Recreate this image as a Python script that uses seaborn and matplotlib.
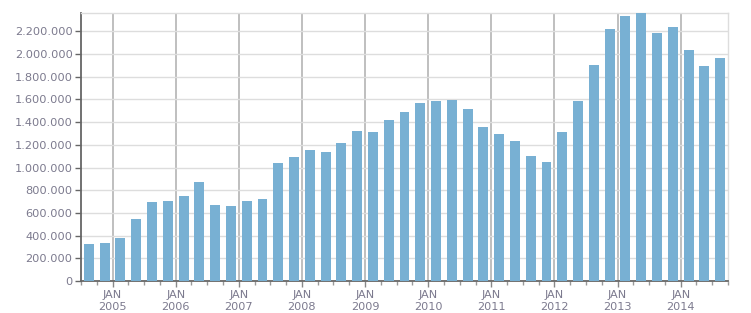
import matplotlib
matplotlib.use("Agg")
import matplotlib.pyplot as plt
import seaborn as sns
import pandas as pd
import numpy as np
from matplotlib.ticker import FuncFormatter, FixedLocator

quarters = [f"{y}Q{q}" for y in range(2004, 2015) for q in range(1, 5)][2:43]
values = [327000, 336000, 380000, 548000, 698000, 707000, 751000, 875000,
          671000, 663000, 707000, 724000, 1043000, 1096000, 1157000, 1140000,
          1219000, 1325000, 1316000, 1422000, 1493000, 1573000, 1590000, 1599000,
          1520000, 1361000, 1299000, 1237000, 1104000, 1051000, 1316000, 1590000,
          1900000, 2218000, 2332000, 2359000, 2182000, 2235000, 2032000, 1891000,
          1961000]
year_labels = ["JAN\n2005", "JAN\n2006", "JAN\n2007", "JAN\n2008", "JAN\n2009",
               "JAN\n2010", "JAN\n2011", "JAN\n2012", "JAN\n2013", "JAN\n2014"]
y_ticks = [0, 200000, 400000, 600000, 800000, 1000000, 1200000, 1400000,
           1600000, 1800000, 2000000, 2200000]

df = pd.DataFrame({"quarter": quarters, "value": values})

sns.set_style("white")
fig = plt.figure(figsize=(7.51, 3.13), dpi=100)
ax = fig.add_axes([81/751, 32/313, (728-81)/751, (281-13)/313])

sns.barplot(data=df, x="quarter", y="value", color="#78b0d3", saturation=1,
            width=0.63, ax=ax, zorder=3, linewidth=0, edgecolor="none")

n = len(quarters)
ax.set_xlim(-0.5, n - 0.5)
ax.set_ylim(0, 2362000)

major = [1.5 + 4 * i for i in range(len(year_labels))]
minor = [i + 0.5 for i in range(-1, n)]
ax.xaxis.set_major_locator(FixedLocator(major))
ax.set_xticklabels(year_labels)
ax.xaxis.set_minor_locator(FixedLocator([m for m in minor if m not in major]))
ax.set_yticks(y_ticks)
ax.yaxis.set_major_formatter(FuncFormatter(lambda v, p: f"{int(v):,}".replace(",", ".")))

lab_col = "#7c7a8e"
ax.tick_params(axis="y", which="major", length=4, width=1, color="#666666",
               labelsize=8.2, labelcolor=lab_col, pad=2, direction="out", left=True)
ax.tick_params(axis="x", which="major", length=4, width=1, color="#888888",
               labelsize=8.1, labelcolor=lab_col, pad=2.5, direction="out", bottom=True)
ax.tick_params(axis="x", which="minor", length=3, width=1, color="#999999",
               direction="out", bottom=True)
for t in ax.get_xticklabels():
    t.set_linespacing(1.3)

ax.set_axisbelow(True)
ax.yaxis.grid(True, color="#dddddd", linewidth=1)
ax.xaxis.grid(True, which="major", color="#b4b4b4", linewidth=1.2)
ax.set_xlabel("")
ax.set_ylabel("")
for s in ["top", "right"]:
    ax.spines[s].set_color("#dddddd")
    ax.spines[s].set_linewidth(1)
ax.spines["left"].set_color("#666666")
ax.spines["bottom"].set_color("#666666")
ax.spines["left"].set_linewidth(1.3)
ax.spines["bottom"].set_linewidth(1.3)

fig.savefig("out.png", dpi=100)
